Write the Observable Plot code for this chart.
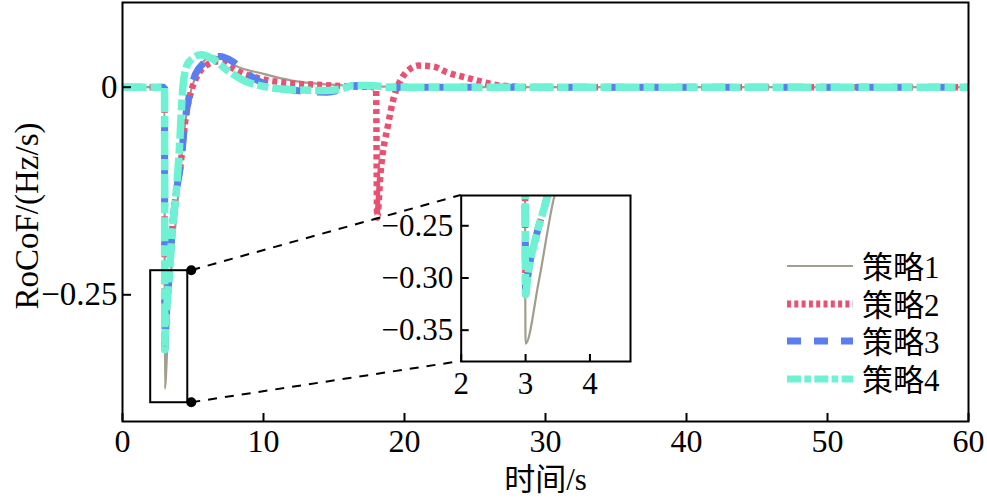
<!DOCTYPE html>
<html><head><meta charset="utf-8">
<script src="https://cdn.jsdelivr.net/npm/d3@7"></script>
<script src="https://cdn.jsdelivr.net/npm/@observablehq/plot@0.6"></script>
<style>
body{margin:0;background:#fff;}
#wrap{position:relative;width:987px;height:499px;overflow:hidden;font-family:'Liberation Serif','Noto Sans CJK SC',serif;}
#wrap > *{position:absolute;}
.lg{font-size:31px;line-height:31px;color:#000;white-space:nowrap;}
</style></head><body><div id="wrap"></div>
<script>
// ---- data ----
const strategies = ["策略1", "策略2", "策略3", "策略4"];
const colors = ["#a39d8d", "#ea5071", "#5b7df0", "#6ff2d3"];

const s1T = [0, 2.98, 3.0, 3.2, 3.45, 3.6, 4.0, 4.3, 4.7, 5.2, 5.8, 6.4, 7.2, 8, 10, 12, 14, 16, 18, 20, 60];
const s1V = [0, 0, -0.363, -0.305, -0.221, -0.193, -0.122, -0.064, -0.016, 0.014, 0.032, 0.037, 0.034, 0.026, 0.016, 0.008, 0.004, 0.002, 0.001, 0, 0];

const s2T = [0, 2.98, 3.0, 3.03, 3.16, 3.32, 3.5, 3.8, 4.1, 4.47, 4.85, 5.25, 6.0, 6.6, 7.3, 7.9, 9.6, 11.7, 13.8, 16, 17.98, 18.06, 18.3, 18.85, 19.2, 19.85, 20.4, 21, 22, 23, 24.5, 26.8, 29, 60];
const s2V = [0, 0, -0.316, -0.300, -0.261, -0.226, -0.178, -0.128, -0.096, -0.038, -0.006, 0.012, 0.027, 0.031, 0.029, 0.022, 0.011, 0.005, 0.003, 0.001, 0, -0.157, -0.103, -0.044, -0.015, 0.012, 0.022, 0.026, 0.025, 0.018, 0.011, 0.002, 0, 0];

const s3T = [0, 2.98, 3.0, 3.03, 3.16, 3.32, 3.5, 3.8, 4.1, 4.47, 4.82, 5.18, 5.7, 6.1, 6.9, 7.8, 8.6, 9.6, 11, 12.9, 14.5, 15.2, 15.9, 16.8, 18, 19, 60];
const s3V = [0, 0, -0.316, -0.300, -0.261, -0.226, -0.178, -0.128, -0.096, -0.036, -0.004, 0.016, 0.028, 0.033, 0.037, 0.031, 0.020, 0.008, 0.0, -0.005, -0.006, -0.004, 0.001, 0.002, 0.001, 0, 0];

const s4T = [0, 2.98, 3.0, 3.03, 3.16, 3.32, 3.5, 3.8, 4.05, 4.2, 4.35, 4.7, 5.6, 6.3, 7.45, 8.6, 10.3, 12.1, 14.5, 15.5, 16.4, 17.5, 19, 60];
const s4V = [0, 0, -0.316, -0.300, -0.261, -0.226, -0.178, -0.128, -0.070, -0.020, 0.010, 0.030, 0.039, 0.035, 0.020, 0.008, 0.0, -0.003, -0.004, -0.002, 0.002, 0.002, 0, 0];

const xTicks = [0, 10, 20, 30, 40, 50, 60];
const yTicks = [0, -0.25];
const insetXTicks = [2, 3, 4];
const insetYTicks = [-0.25, -0.30, -0.35];
const xDomain = [0, 60];
const yDomain = [-0.4026, 0.102];
const insetX = [2, 4.63];
const insetY = [-0.38, -0.221];
const xLabel = "时间/s";
const yLabel = "RoCoF/(Hz/s)";

// ---- styles ----
const lineStyles = [
  {strokeWidth: 2.2, strokeDasharray: null},
  {strokeWidth: 6.5, strokeDasharray: "5 4"},
  {strokeWidth: 7, strokeDasharray: "20 16"},
  {strokeWidth: 7.5, strokeDasharray: "24 4 11 4"}
];
const legendStyles = [
  {strokeWidth: 2, strokeDasharray: null},
  {strokeWidth: 7, strokeDasharray: "4 3.3"},
  {strokeWidth: 7, strokeDasharray: "14 13"},
  {strokeWidth: 7, strokeDasharray: "14 3.3 6.7 3.3"}
];
const series = [[s1T, s1V], [s2T, s2V], [s3T, s3V], [s4T, s4V]];
const rows = series.map(([T, V], i) => T.map((t, j) => ({t, v: V[j], s: strategies[i]})));

const FONT = "'Liberation Serif','Noto Sans CJK SC',serif";
function lineMarks(clip) {
  return rows.map((r, i) => Plot.line(r, {
    x: "t", y: "v", stroke: colors[i], strokeWidth: lineStyles[i].strokeWidth,
    strokeDasharray: lineStyles[i].strokeDasharray, curve: "monotone-x", clip,
    strokeLinecap: "butt", strokeLinejoin: "miter"
  }));
}

// ---- main chart ----
const W = 987, H = 499, mL = 122, mR = 19, mT = 2, mB = 78;
const fw = W - mL - mR, fh = H - mT - mB;
const main = Plot.plot({
  width: W, height: H, marginLeft: mL, marginRight: mR, marginTop: mT, marginBottom: mB,
  x: {domain: xDomain, label: null}, y: {domain: yDomain, label: null},
  style: {fontFamily: FONT, fontSize: "33px", background: "white", color: "black"},
  marks: [
    ...lineMarks(true),
    Plot.frame({strokeWidth: 2}),
    Plot.tickX(xTicks, {x: d => d, insetTop: fh - 8, strokeWidth: 2}),
    Plot.tickY(yTicks, {y: d => d, insetRight: fw - 9, strokeWidth: 2}),
    Plot.axisX(xTicks, {tickSize: 0, tickPadding: 8, fontSize: 32, label: null}),
    Plot.axisY(yTicks, {tickSize: 0, tickPadding: 5, fontSize: 33, label: null,
      tickFormat: d => d === 0 ? "0" : d3.format(".2f")(d)}),
    Plot.rect([{x1: insetX[0], x2: insetX[1], y1: insetY[0], y2: insetY[1]}],
      {x1: "x1", x2: "x2", y1: "y1", y2: "y2", fill: "none", stroke: "black", strokeWidth: 2}),
    Plot.text([xLabel], {text: d => d, frameAnchor: "bottom", dy: 59, lineAnchor: "middle", textAnchor: "middle", fontSize: 31}),
    Plot.text([yLabel], {text: d => d, frameAnchor: "left", dx: -95, dy: 4, rotate: -90, lineAnchor: "middle", textAnchor: "middle", fontSize: 33})
  ]
});
main.style.left = "0px"; main.style.top = "0px";
const wrap = document.getElementById("wrap");
wrap.appendChild(main);

// ---- inset ----
const iL = 380, iT = 185, iW = 255, iH = 225, imL = 80.7, imR = 5, imT = 10, imB = 49;
const ifw = iW - imL - imR, ifh = iH - imT - imB;
const inset = Plot.plot({
  width: iW, height: iH, marginLeft: imL, marginRight: imR, marginTop: imT, marginBottom: imB,
  x: {domain: insetX, label: null}, y: {domain: insetY, label: null},
  style: {fontFamily: FONT, fontSize: "31px", background: "transparent", color: "black", overflow: "visible"},
  marks: [
    Plot.frame({fill: "white", stroke: null}),
    ...lineMarks(true),
    Plot.frame({strokeWidth: 2}),
    Plot.tickX(insetXTicks, {x: d => d, insetTop: ifh - 7, strokeWidth: 2}),
    Plot.tickY(insetYTicks, {y: d => d, insetRight: ifw - 8, strokeWidth: 2}),
    Plot.axisX(insetXTicks, {tickSize: 0, tickPadding: 10, fontSize: 31, label: null}),
    Plot.axisY(insetYTicks, {tickSize: 0, tickPadding: 8, fontSize: 31, label: null, tickFormat: d3.format(".2f")})
  ]
});
inset.style.left = iL + "px"; inset.style.top = iT + "px";
wrap.appendChild(inset);

// ---- connectors (computed from the scales and inset placement) ----
const sx = main.scale("x"), sy = main.scale("y");
const dotX = sx.apply(insetX[1]) + 4;
const pts = [
  [dotX, sy.apply(insetY[1]), iL + imL, iT + imT],
  [dotX, sy.apply(insetY[0]), iL + imL, iT + iH - imB]
];
const ov = d3.create("svg").attr("width", W).attr("height", H)
  .style("left", "0px").style("top", "0px").style("pointer-events", "none");
ov.selectAll("line").data(pts).join("line")
  .attr("x1", d => d[0]).attr("y1", d => d[1]).attr("x2", d => d[2]).attr("y2", d => d[3])
  .attr("stroke", "black").attr("stroke-width", 2).attr("stroke-dasharray", "9 8");
ov.selectAll("circle").data(pts).join("circle")
  .attr("cx", d => d[0]).attr("cy", d => d[1]).attr("r", 5).attr("fill", "black");
wrap.appendChild(ov.node());

// ---- legend ----
const lgX = 787, lgY0 = 266, lgStep = 37.5;
strategies.forEach((name, i) => {
  const y = lgY0 + i * lgStep;
  const sw = d3.create("svg").attr("width", 66).attr("height", 12)
    .style("left", lgX + "px").style("top", (y - 6) + "px");
  sw.append("line").attr("x1", 0).attr("x2", 66).attr("y1", 6).attr("y2", 6)
    .attr("stroke", colors[i]).attr("stroke-width", legendStyles[i].strokeWidth)
    .attr("stroke-dasharray", legendStyles[i].strokeDasharray);
  wrap.appendChild(sw.node());
  const tx = document.createElement("div");
  tx.className = "lg";
  tx.textContent = name;
  tx.style.left = "862px"; tx.style.top = (y - 14) + "px";
  wrap.appendChild(tx);
});
</script></body></html>
